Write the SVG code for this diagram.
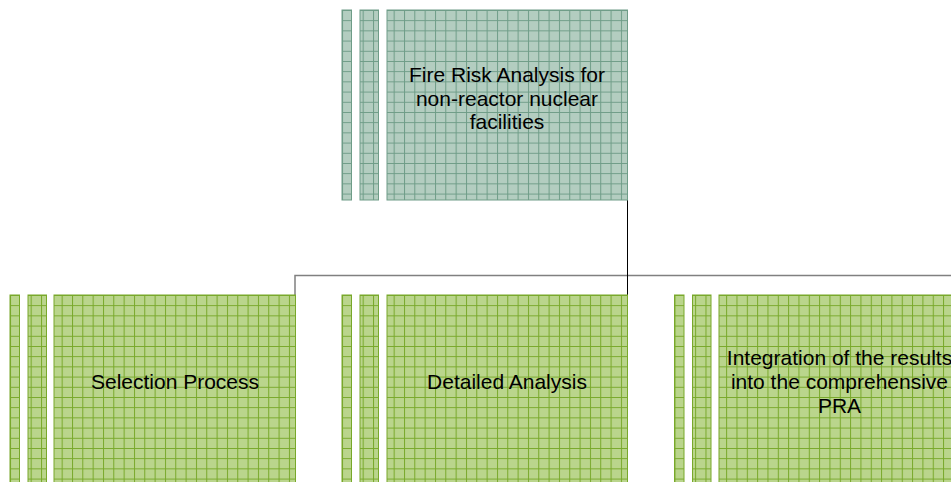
<svg xmlns="http://www.w3.org/2000/svg" width="951" height="482" viewBox="0 0 951 482">
  <style>
    .lbl { font-family: "Liberation Sans", Arial, sans-serif; font-size: 21px; fill: #000; text-anchor: middle; }
    .teal { fill: url(#gridTeal); stroke: #6e9c87; stroke-width: 1; }
    .green { fill: url(#gridGreen); stroke: #78a82a; stroke-width: 1; }
  </style>
  <defs>
    <pattern id="gridTeal" patternUnits="userSpaceOnUse" width="10.33" height="10.2">
      <rect width="10.33" height="10.2" fill="#b3cdc0"/>
      <path d="M0.5 0 V10.2 M0 0.5 H10.33" stroke="#6e9c87" stroke-width="1" fill="none"/>
    </pattern>
    <pattern id="gridGreen" patternUnits="userSpaceOnUse" width="10.33" height="10.2">
      <rect width="10.33" height="10.2" fill="#bad58c"/>
      <path d="M0.5 0 V10.2 M0 0.5 H10.33" stroke="#78a82a" stroke-width="1" fill="none"/>
    </pattern>
  </defs>

  <g id="connectors" fill="none">
    <path d="M295 295 V275.5 H951" stroke="#808080" stroke-width="1.5"/>
    <path d="M627.5 200 V295" stroke="#000" stroke-width="1"/>
  </g>

  <g id="node-fire-risk">
    <g transform="translate(342,10)">
      <rect class="teal" x="0" y="0" width="9.5" height="190"/>
      <rect class="teal" x="18" y="0" width="18.5" height="190"/>
      <rect class="teal" x="45" y="0" width="240.5" height="190"/>
    </g>
    <text class="lbl" x="507" y="82">Fire Risk Analysis for</text>
    <text class="lbl" x="507" y="105.5">non-reactor nuclear</text>
    <text class="lbl" x="507" y="129">facilities</text>
  </g>

  <g id="node-selection">
    <g transform="translate(10,295)">
      <rect class="green" x="0" y="0" width="9.5" height="200"/>
      <rect class="green" x="18" y="0" width="18.5" height="200"/>
      <rect class="green" x="44" y="0" width="241.5" height="200"/>
    </g>
    <text class="lbl" x="175" y="388.5">Selection Process</text>
  </g>

  <g id="node-detailed">
    <g transform="translate(342,295)">
      <rect class="green" x="0" y="0" width="9.5" height="200"/>
      <rect class="green" x="18" y="0" width="18.5" height="200"/>
      <rect class="green" x="45" y="0" width="240.5" height="200"/>
    </g>
    <text class="lbl" x="507" y="388.5">Detailed Analysis</text>
  </g>

  <g id="node-integration">
    <g transform="translate(674.5,295)">
      <rect class="green" x="0" y="0" width="9.5" height="200"/>
      <rect class="green" x="18" y="0" width="18.5" height="200"/>
      <rect class="green" x="44.5" y="0" width="240.5" height="200"/>
    </g>
    <text class="lbl" x="839.5" y="365">Integration of the results</text>
    <text class="lbl" x="839.5" y="389">into the comprehensive</text>
    <text class="lbl" x="839.5" y="413">PRA</text>
  </g>
</svg>
